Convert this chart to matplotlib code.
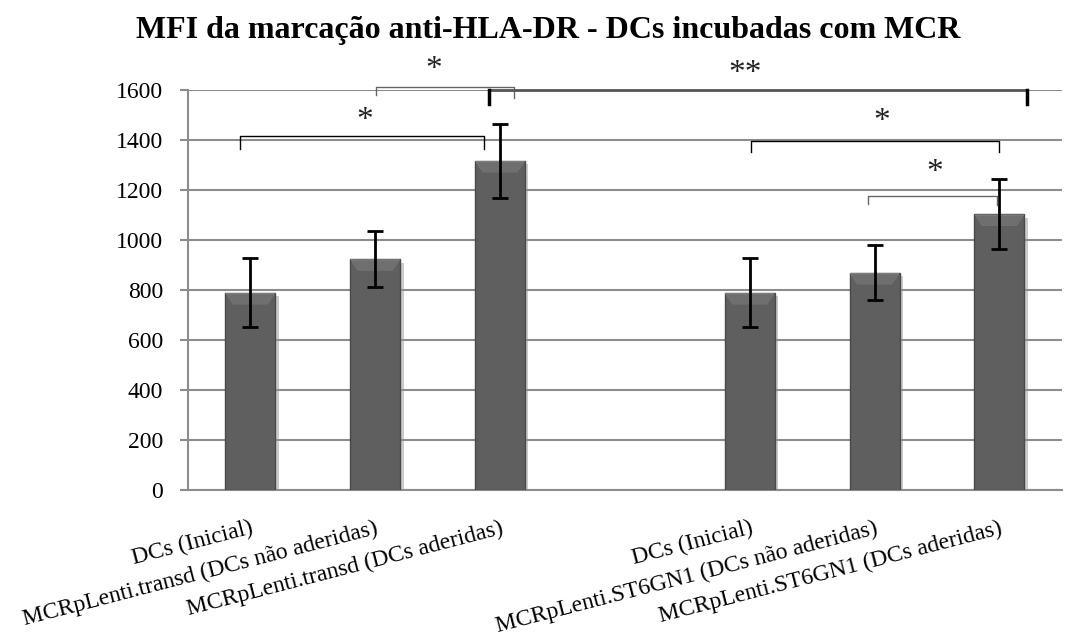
import numpy as np
import matplotlib
matplotlib.use("Agg")
import matplotlib.pyplot as plt
from matplotlib.patches import Polygon
import matplotlib.patheffects as pe

# MFI values (mean +/- error) for each condition; slot 3 is an empty gap
positions = [0, 1, 2, 4, 5, 6]
labels = [
    "DCs (Inicial)",
    "MCRpLenti.transd (DCs não aderidas)",
    "MCRpLenti.transd (DCs aderidas)",
    "DCs (Inicial)",
    "MCRpLenti.ST6GN1 (DCs não aderidas)",
    "MCRpLenti.ST6GN1 (DCs aderidas)",
]
mfi = [788, 923, 1316, 788, 868, 1102]
mfi_err = [138, 112, 148, 138, 110, 140]

# significance brackets: x start, x end, bar height, left/right drop, mark
sig_x1 = [-0.08, 1.01, 1.91, 4.01, 4.95]
sig_x2 = [1.87, 2.11, 6.22, 6.00, 5.98]
sig_y = [1417, 1613, 1600, 1395, 1177]
sig_drop_l = [1364, 1580, 1545, 1350, 1142]
sig_drop_r = [1364, 1567, 1545, 1350, 1140]
sig_text = ["*", "*", "**", "*", "*"]
sig_text_x = [0.92, 1.47, 3.96, 5.06, 5.48]
sig_text_y = [1477, 1680, 1664, 1472, 1269]

plt.rcParams["font.family"] = ["Liberation Serif", "DejaVu Serif"]

fig = plt.figure(figsize=(10.65, 6.39), dpi=100)
ax = fig.add_axes([0.1765, 0.2332, 0.8205, 0.626])

grid_col = "#8c8c8c"
bar_w = 0.4
bars = ax.bar(positions, mfi, width=bar_w, color="#5f5f5f", edgecolor="#4a4a4a",
              linewidth=1.0, zorder=3)
for b in bars:
    b.set_path_effects([pe.SimplePatchShadow(offset=(2.5, -2.5), shadow_rgbFace="#999999", alpha=0.5),
                        pe.Normal()])

# bevel highlight on top of each bar
bevel_h = 45
inset = 0.06
for x, h in zip(positions, mfi):
    x0, x1 = x - bar_w / 2, x + bar_w / 2
    top = Polygon([(x0, h), (x1, h), (x1 - inset, h - bevel_h), (x0 + inset, h - bevel_h)],
                  closed=True, facecolor="#7e7e7e", edgecolor="none", zorder=4)
    ax.add_patch(top)
    mid = Polygon([(x0 + 0.01, h - 5), (x1 - 0.01, h - 5), (x1 - inset, h - bevel_h),
                   (x0 + inset, h - bevel_h)],
                  closed=True, facecolor="#6f6f6f", edgecolor="none", zorder=4)
    ax.add_patch(mid)

ax.errorbar(positions, mfi, yerr=mfi_err, fmt="none", ecolor="black", elinewidth=2,
            capsize=6, capthick=2, zorder=5)

for x1, x2, y, dl, dr, txt, tx, ty in zip(sig_x1, sig_x2, sig_y, sig_drop_l, sig_drop_r,
                                         sig_text, sig_text_x, sig_text_y):
    if txt == "**":
        ax.plot([x1, x2], [y, y], color="#555555", lw=2, clip_on=False, zorder=6)
        ax.plot([x1, x1], [y, dl], color="black", lw=2.5, clip_on=False, zorder=6)
        ax.plot([x2, x2], [y, dr], color="black", lw=2.5, clip_on=False, zorder=6)
    else:
        col = "#666666" if y in (1613, 1177) else "black"
        ax.plot([x1, x1, x2, x2], [dl, y, y, dr], color=col, lw=1, clip_on=False, zorder=6)
    ax.text(tx, ty, txt, ha="center", va="center", fontsize=24, color="#222222")

ax.set_xlim(-0.5, 6.5)
ax.set_ylim(0, 1600)
ax.set_yticks(np.arange(0, 1601, 200))
ax.yaxis.grid(True, color=grid_col, lw=1.5, zorder=0)
ax.set_axisbelow(True)
ax.tick_params(axis="y", length=6, width=1.5, color=grid_col, labelsize=17, pad=12)
ax.tick_params(axis="x", length=0, labelsize=17, pad=20)
ax.set_xticks(positions)
ax.set_xticklabels(labels, rotation=14.5, ha="right", va="top", rotation_mode="anchor")

for side in ("top", "right"):
    ax.spines[side].set_visible(False)
for side in ("left", "bottom"):
    ax.spines[side].set_color(grid_col)
    ax.spines[side].set_linewidth(1.5)

fig.text(0.515, 0.94, "MFI da marcação anti-HLA-DR - DCs incubadas com MCR",
         ha="center", va="baseline", fontsize=23, fontweight="bold")

fig.savefig("out.png", dpi=100, facecolor="white")
